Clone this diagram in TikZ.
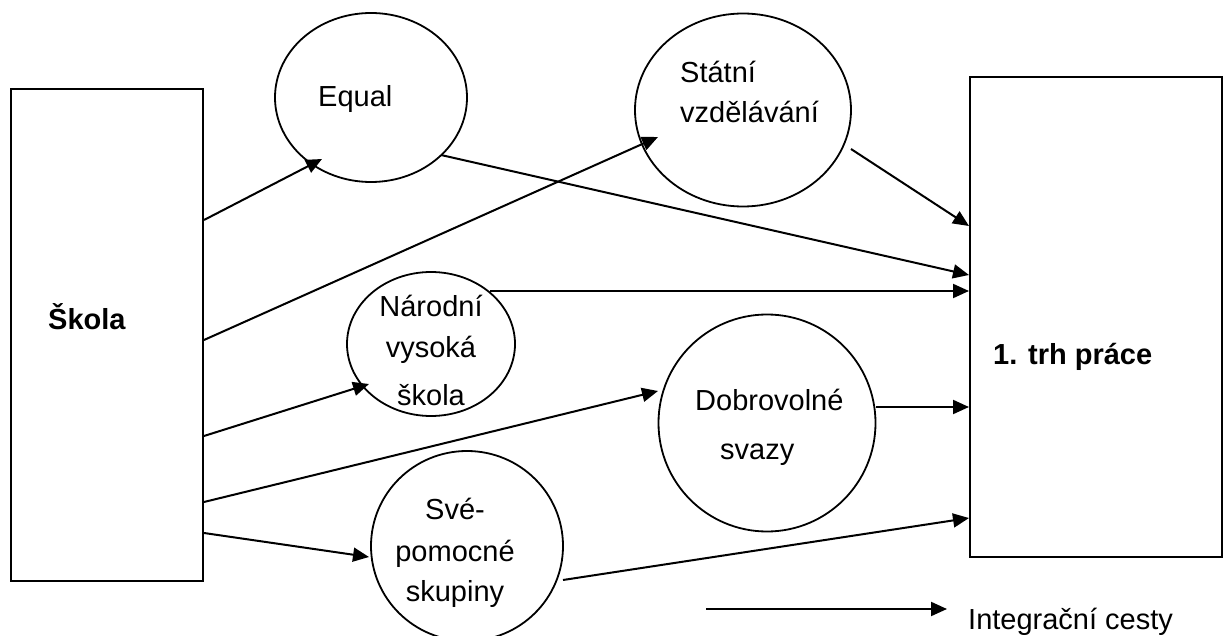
\documentclass[tikz,border=0pt]{standalone}
\usepackage{fontspec}
\setmainfont{Liberation Sans}
\usetikzlibrary{shapes.geometric,arrows.meta}
\begin{document}
\begin{tikzpicture}[x=1pt,y=-1pt,
  box/.style={draw,line width=2pt,rectangle,inner sep=0pt},
  bubble/.style={draw,line width=1.8pt,ellipse,inner sep=0pt},
  lbl/.style={anchor=base,inner sep=0pt,font=\fontsize{29}{35}\selectfont},
  lblw/.style={anchor=base west,inner sep=0pt,font=\fontsize{29}{35}\selectfont},
  lblb/.style={anchor=base west,inner sep=0pt,font=\fontsize{29}{35}\selectfont\bfseries},
  conn/.style={line width=2pt,-{Triangle[length=16pt,width=14pt]}}]
\useasboundingbox (0,0) rectangle (1224,636);
% boxes
\node[box,minimum width=192pt,minimum height=492pt] (skola) at (107,335) {};
\node[box,minimum width=252pt,minimum height=480pt] (trh) at (1096,317) {};
\node[lblb] (tskola) at (48,330) {Škola};
\node[lblb] (ttrh) at (993,365) {1. trh práce};
% bubbles
\node[bubble,minimum width=192pt,minimum height=169pt] (equal) at (371,97.5) {};
\node[bubble,minimum width=216pt,minimum height=193pt] (statni) at (743,110) {};
\node[bubble,minimum width=168pt,minimum height=144pt] (narodni) at (431,344) {};
\node[bubble,minimum width=217pt,minimum height=217pt] (dobro) at (767,423) {};
\node[bubble,minimum width=192pt,minimum height=190pt] (svep) at (467,546) {};
% bubble texts
\node[lblw] (tequal) at (318,107) {Equal};
\node[lblw] (tstat1) at (680,83) {Státní};
\node[lblw] (tstat2) at (680,123) {vzdělávání};
\node[lbl] (tnar1) at (431,317) {Národní};
\node[lbl] (tnar2) at (431,358) {vysoká};
\node[lbl] (tnar3) at (431,405) {škola};
\node[lblw] (tdob1) at (695,410) {Dobrovolné};
\node[lblw] (tdob2) at (720,459) {svazy};
\node[lbl] (tsv1) at (455,519) {Své-};
\node[lbl] (tsv2) at (455,561) {pomocné};
\node[lbl] (tsv3) at (455,601) {skupiny};
% connectors from Škola
\draw[conn] ([yshift=115pt]skola.east) -- ([shift={(-49,61.5)}]equal.center);
\draw[conn] ([yshift=-5pt]skola.east) -- ([shift={(-85,27)}]statni.center);
\draw[conn] ([yshift=-101pt]skola.east) -- ([shift={(-62,40)}]narodni.center);
\draw[conn] ([yshift=-167pt]skola.east) -- ([shift={(-109,-32)}]dobro.center);
\draw[conn] ([yshift=-198pt]skola.east) -- ([shift={(-98,11)}]svep.center);
% connectors to trh
\draw[conn] ([shift={(70,57.5)}]equal.center) -- ([yshift=42pt]trh.west);
\draw[conn] ([shift={(108,39)}]statni.center) -- ([yshift=91pt]trh.west);
\draw[conn] ([shift={(59,-53)}]narodni.center) -- ([yshift=26pt]trh.west);
\draw[conn] ([shift={(109,-16)}]dobro.center) -- ([yshift=-90pt]trh.west);
\draw[conn] ([shift={(96,34)}]svep.center) -- ([yshift=-201pt]trh.west);
% legend
\coordinate (legA) at (706,609);
\coordinate (legB) at (947,609);
\draw[conn] (legA) -- (legB);
\node[lblw] (tleg) at (968,629) {Integrační cesty};
\end{tikzpicture}
\end{document}
